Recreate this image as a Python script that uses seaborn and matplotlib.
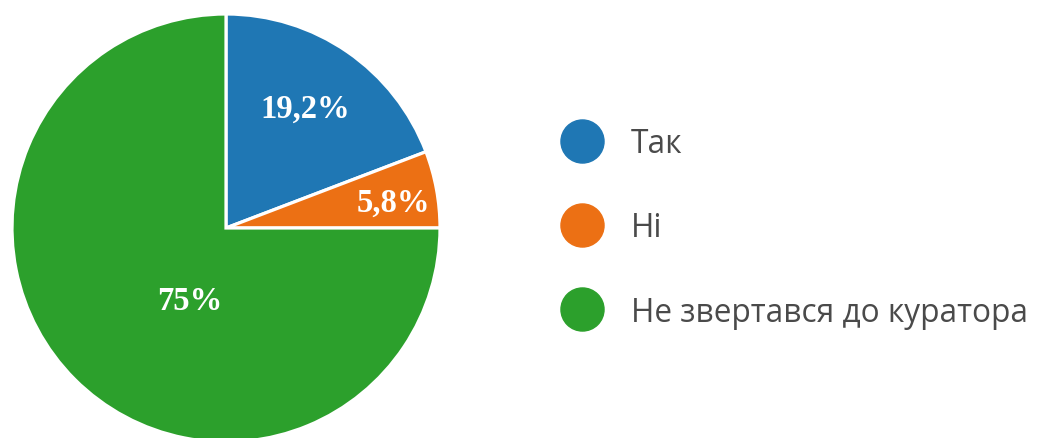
import numpy as np
import matplotlib
matplotlib.use("Agg")
import matplotlib.pyplot as plt
import seaborn as sns
from matplotlib.lines import Line2D

### data
categories = ["Так", "Ні", "Не звертався до куратора"]
shares = [19.2, 5.8, 75.0]
pct_labels = ["19,2%", "5,8%", "75%"]

sns.set_theme(style="white")
colors = ["#1f77b4", "#ec7014", "#2ca02c"]

fig = plt.figure(figsize=(10.55, 4.39), dpi=100)
# pie box: center approx (226, 229) px, radius 214 px
ax = fig.add_axes([12 / 1055, -4 / 439, 428 / 1055, 428 / 439])
wedges, _ = ax.pie(shares, colors=colors, startangle=90, counterclock=False,
                   radius=1, wedgeprops={"edgecolor": "white", "linewidth": 2.3})
ax.set_xlim(-1, 1)
ax.set_ylim(-1, 1)
ax.axis("off")

# label placement per slice: (distance from center, angle shift in degrees)
label_place = [(0.67, 1.0), (0.79, -1.6), (0.38, 18.7)]
for w, lab, (dist, shift) in zip(wedges, pct_labels, label_place):
    ang = np.deg2rad((w.theta1 + w.theta2) / 2 + shift)
    ax.text(dist * np.cos(ang), dist * np.sin(ang), lab, ha="center", va="center",
            color="white", fontsize=23.5, fontweight="bold", family="Liberation Serif")

### legend
handles = [Line2D([], [], marker="o", linestyle="", markersize=31,
                  markerfacecolor=c, markeredgecolor=c) for c in colors]
leg = fig.legend(handles, categories, loc="center left", bbox_to_anchor=(0.502, 0.479),
                 frameon=False, handlelength=1.5, handletextpad=0.8, labelspacing=1.62,
                 prop={"family": "Open Sans", "size": 22.8})
for t in leg.get_texts():
    t.set_color("#4a4a4a")

plt.savefig("out.png", dpi=100)
